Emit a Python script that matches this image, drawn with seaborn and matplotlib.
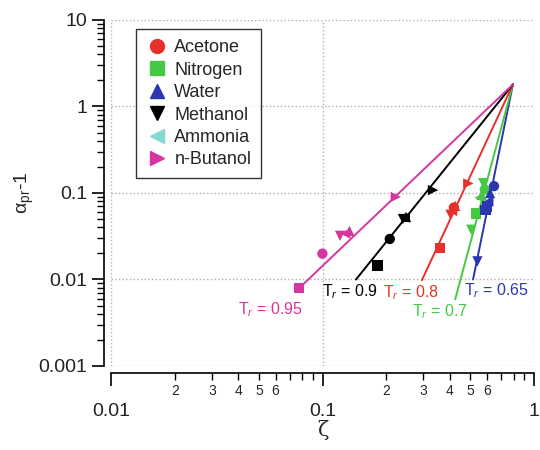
import matplotlib
matplotlib.use("Agg")
import matplotlib.pyplot as plt
import matplotlib.ticker as mticker
from matplotlib.lines import Line2D
import seaborn as sns
import pandas as pd
import numpy as np

sns.set_theme(style="white")
plt.rcParams['font.family'] = ['Liberation Sans', 'DejaVu Sans']
plt.rcParams['mathtext.fontset'] = 'custom'
plt.rcParams['mathtext.rm'] = 'Liberation Sans'
plt.rcParams['mathtext.it'] = 'Liberation Sans:italic'

# ---- data ----
substances = ["Acetone", "Nitrogen", "Water", "Methanol", "Ammonia", "n-Butanol"]
legend_colors = ["#e8302a", "#45c945", "#2b36b0", "#000000", "#86d9d2", "#d6369f"]
substance_markers = ["o", "s", "^", "v", "<", ">"]

tr_values = [0.95, 0.9, 0.8, 0.7, 0.65]
tr_colors = ["#d6369f", "#000000", "#e8302a", "#45c945", "#2b36b0"]
tr_labels = ["T$_r$ = 0.95", "T$_r$ = 0.9", "T$_r$ = 0.8", "T$_r$ = 0.7", "T$_r$ = 0.65"]

# common convergence point of all lines
conv_zeta = 0.795
conv_alpha = 1.8
# start points of the lines
line_start_zeta = [0.0774, 0.144, 0.295, 0.424, 0.515]
line_start_alpha = [0.0079, 0.0100, 0.0098, 0.0059, 0.0100]

# measured points (zeta, alpha-1, substance) for each Tr
pts_tr = [0.95, 0.95, 0.95, 0.95, 0.95, 0.95,
          0.9, 0.9, 0.9, 0.9, 0.9, 0.9,
          0.8, 0.8, 0.8, 0.8, 0.8, 0.8,
          0.7, 0.7, 0.7, 0.7, 0.7, 0.7,
          0.65, 0.65, 0.65, 0.65, 0.65, 0.65]
pts_zeta = [0.0774, 0.0999, 0.121, 0.128, 0.134, 0.222,
            0.182, 0.208, 0.240, 0.245, 0.248, 0.333,
            0.358, 0.403, 0.418, 0.410, 0.424, 0.489,
            0.505, 0.530, 0.553, 0.565, 0.585, 0.575,
            0.540, 0.590, 0.608, 0.620, 0.647, 0.600]
pts_alpha = [0.0079, 0.0199, 0.0320, 0.0340, 0.0365, 0.0900,
             0.0145, 0.0294, 0.0500, 0.0520, 0.0530, 0.1080,
             0.0231, 0.0560, 0.0680, 0.0620, 0.0710, 0.1290,
             0.0376, 0.0580, 0.0880, 0.0950, 0.1100, 0.1300,
             0.0162, 0.0638, 0.0794, 0.1000, 0.1200, 0.0700]
pts_sub = ["Nitrogen", "Acetone", "Methanol", "Ammonia", "Water", "n-Butanol",
           "Nitrogen", "Acetone", "Methanol", "Ammonia", "Water", "n-Butanol",
           "Nitrogen", "Methanol", "Acetone", "Ammonia", "Water", "n-Butanol",
           "Methanol", "Nitrogen", "Ammonia", "Water", "Acetone", "Methanol",
           "Methanol", "Nitrogen", "Ammonia", "Water", "Acetone", "Nitrogen"]

# label positions for Tr annotations
lab_zeta = [0.057, 0.135, 0.262, 0.36, 0.665]
lab_alpha = [0.0045, 0.0073, 0.0071, 0.0042, 0.0075]

# ---- figure ----
fig = plt.figure(figsize=(5.4, 4.5), dpi=100)
ax = fig.add_axes([0.2056, 0.1867, 0.7833, 0.7689])

lines_df = pd.DataFrame({
    "zeta": [z for z in line_start_zeta] + [conv_zeta] * len(tr_values),
    "alpha": [a for a in line_start_alpha] + [conv_alpha] * len(tr_values),
    "Tr": tr_values + tr_values,
})
sns.lineplot(data=lines_df, x="zeta", y="alpha", hue="Tr",
             palette=dict(zip(tr_values, tr_colors)), legend=False,
             linewidth=1.4, ax=ax, sort=False, estimator=None, units="Tr")

pts_df = pd.DataFrame({"zeta": pts_zeta, "alpha": pts_alpha,
                       "Tr": pts_tr, "sub": pts_sub})
sns.scatterplot(data=pts_df, x="zeta", y="alpha", hue="Tr", style="sub",
                palette=dict(zip(tr_values, tr_colors)),
                markers=dict(zip(substances, substance_markers)),
                s=55, linewidth=0, legend=False, ax=ax, zorder=3)

ax.set_xscale("log")
ax.set_yscale("log")
ax.set_xlim(0.01, 1)
ax.set_ylim(0.001, 10)

for lab, zx, ay, c in zip(tr_labels, lab_zeta, lab_alpha, tr_colors):
    ax.text(zx, ay, lab, color=c, fontsize=11.5, ha="center", va="center")

# axes styling
for s in ["top", "right"]:
    ax.spines[s].set_visible(False)
for s in ["left", "bottom"]:
    ax.spines[s].set_color("black")
    ax.spines[s].set_linewidth(1.2)
ax.spines["left"].set_position(("outward", 5))
ax.spines["bottom"].set_position(("outward", 5))

ax.xaxis.set_major_locator(mticker.LogLocator(base=10, numticks=10))
ax.xaxis.set_minor_locator(mticker.LogLocator(base=10, subs=np.arange(2, 10), numticks=10))
ax.yaxis.set_major_locator(mticker.LogLocator(base=10, numticks=10))
ax.yaxis.set_minor_locator(mticker.LogLocator(base=10, subs=np.arange(2, 10), numticks=10))

def major_fmt(v, pos):
    return "{:g}".format(v)

def minor_fmt(v, pos):
    e = np.floor(np.log10(v) + 1e-9)
    m = int(round(v / 10 ** e))
    return str(m) if m <= 6 else ""

ax.xaxis.set_major_formatter(mticker.FuncFormatter(major_fmt))
ax.xaxis.set_minor_formatter(mticker.FuncFormatter(minor_fmt))
ax.yaxis.set_major_formatter(mticker.FuncFormatter(major_fmt))
ax.yaxis.set_minor_formatter(mticker.NullFormatter())

ax.tick_params(axis="both", which="major", direction="out", length=9, width=1.2,
               labelsize=14, color="black", labelcolor="#222222", bottom=True, left=True)
ax.tick_params(axis="both", which="minor", direction="out", length=5, width=1.0,
               color="black", bottom=True, left=True)
ax.tick_params(axis="x", which="minor", labelsize=10, pad=3)
ax.tick_params(axis="x", which="major", pad=13)
ax.tick_params(axis="y", which="major", pad=3)

ax.grid(True, which="major", linestyle=":", color="#b0b0b0", linewidth=1.0)

ax.set_xlabel("ζ", fontsize=15, labelpad=0, family=["DejaVu Serif"])
ax.set_ylabel(r"$\mathrm{\alpha_{pr}}$-1", fontsize=14, labelpad=2)

handles = [Line2D([], [], linestyle="none", marker=m, color=c, markersize=10)
           for m, c in zip(substance_markers, legend_colors)]
leg = ax.legend(handles, substances, loc="upper left", bbox_to_anchor=(0.058, 0.973),
                borderaxespad=0, fontsize=13, frameon=True, fancybox=False,
                handletextpad=0.3, labelspacing=0.3, borderpad=0.55,
                handlelength=1.3)
leg.get_frame().set_edgecolor("black")
leg.get_frame().set_linewidth(1.0)

fig.savefig("out.png", dpi=100)
